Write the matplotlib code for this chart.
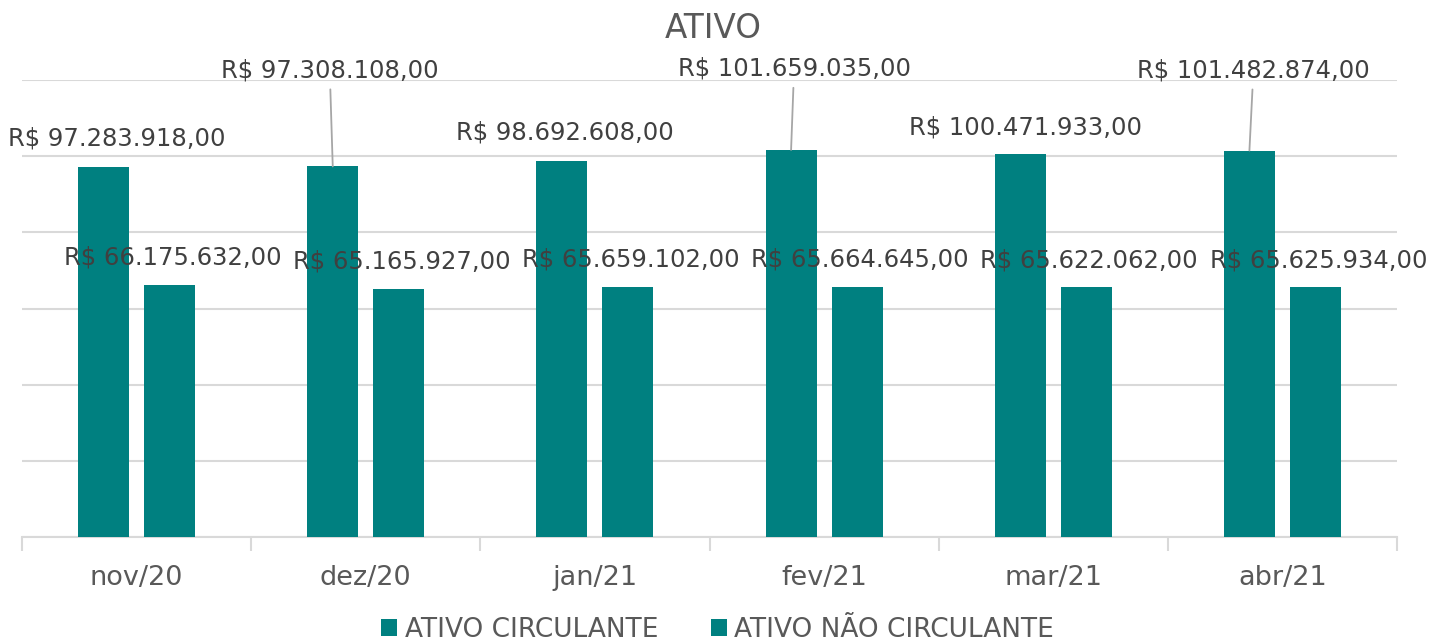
import matplotlib
matplotlib.use("Agg")
import matplotlib.pyplot as plt
import numpy as np

categories = ["nov/20", "dez/20", "jan/21", "fev/21", "mar/21", "abr/21"]
circulante = [97283918.00, 97308108.00, 98692608.00, 101659035.00, 100471933.00, 101482874.00]
nao_circulante = [66175632.00, 65165927.00, 65659102.00, 65664645.00, 65622062.00, 65625934.00]
series_names = ["ATIVO CIRCULANTE", "ATIVO NÃO CIRCULANTE"]
title = "ATIVO"

# style: label offsets in pixels (dx, dy) relative to bar top centre
circ_offsets = [(13, 28), (-3, 96), (3, 29), (3, 81), (5, 27), (4, 80)]
circ_leader = [False, True, False, True, False, True]
nc_offsets = [(3, 27)] * 6

def brl(v):
    s = f"{v:,.2f}"
    s = s.replace(",", "X").replace(".", ",").replace("X", ".")
    return "R$ " + s

teal = "#008080"
txt = "#404040"
grid = "#d9d9d9"

plt.rcParams['font.family'] = ['DejaVu Sans']
fig = plt.figure(figsize=(14.35, 6.43), dpi=100)
ax = fig.add_axes([22/1435, 1 - 537/643, (1397-22)/1435, (537-80)/643])

x = np.arange(len(categories))
w = 0.223
off = 0.144
b1 = ax.bar(x - off, circulante, width=w, color=teal, zorder=3, label=series_names[0])
b2 = ax.bar(x + off, nao_circulante, width=w, color=teal, zorder=3, label=series_names[1])

ax.set_ylim(0, 120e6)
ax.set_xlim(-0.5, len(categories) - 0.5)
ax.set_yticks(np.arange(0, 120e6 + 1, 20e6))
ax.yaxis.grid(True, color=grid, lw=1.5, zorder=0)
ax.tick_params(axis='y', left=False, labelleft=False)
for s in ['left', 'right', 'top']:
    ax.spines[s].set_visible(False)
ax.spines['bottom'].set_color(grid)
ax.spines['bottom'].set_linewidth(1.5)
ax.set_xticks(x)
ax.set_xticklabels(categories, fontsize=19.5, color="#595959")
ax.tick_params(axis='x', which='major', length=0, pad=20)
ax.set_xticks(np.arange(-0.5, len(categories), 1.0), minor=True)
ax.tick_params(axis='x', which='minor', length=10, color=grid, width=1.5)

for i in range(len(categories)):
    dx, dy = circ_offsets[i]
    ap = dict(arrowstyle='-', color='#a6a6a6', lw=1.3, shrinkA=3, shrinkB=0) if circ_leader[i] else None
    ax.annotate(brl(circulante[i]), xy=(x[i] - off, circulante[i]), xytext=(dx, dy),
                textcoords='offset pixels', ha='center', va='center', fontsize=17.5,
                color=txt, arrowprops=ap, zorder=5, annotation_clip=False)
    dx, dy = nc_offsets[i]
    ax.annotate(brl(nao_circulante[i]), xy=(x[i] + off, nao_circulante[i]), xytext=(dx, dy),
                textcoords='offset pixels', ha='center', va='center', fontsize=17.5,
                color=txt, zorder=5, annotation_clip=False)

fig.text(0.497, 1 - 28/643, title, ha='center', va='center', fontsize=23.5, color="#595959")

fig.legend(handles=[b1, b2], labels=series_names, loc='center', bbox_to_anchor=(0.5, 1 - 630/643),
           ncol=2, frameon=False, fontsize=19, handlelength=0.6, handleheight=0.6,
           handletextpad=0.3, columnspacing=2.0, labelcolor="#595959")

fig.savefig("out.png", dpi=100, facecolor="white")
